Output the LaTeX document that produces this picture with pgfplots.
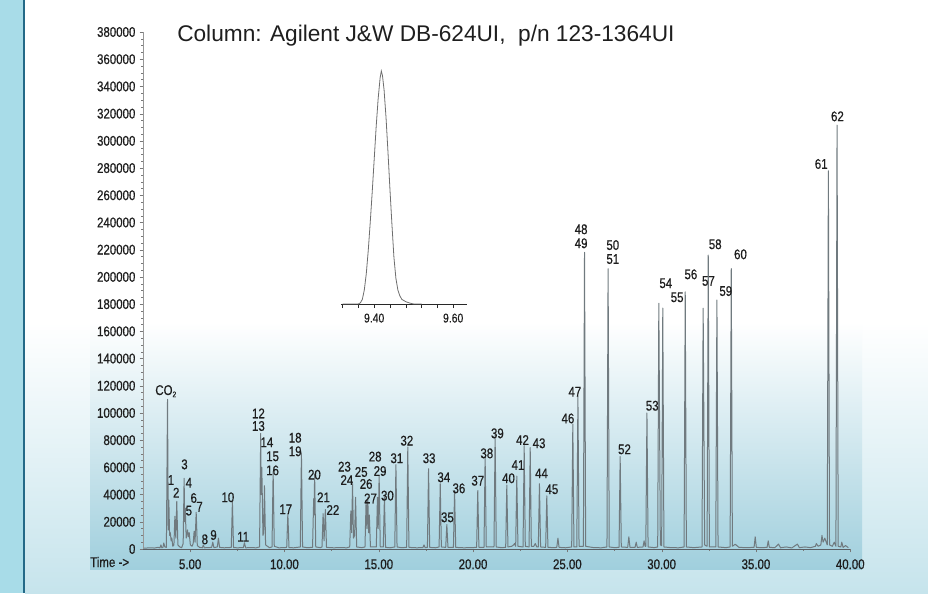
\documentclass[border=0pt]{standalone}
\usepackage{fontspec}
\setmainfont{Liberation Sans}
\newfontfamily\condfont{Liberation Sans}[FakeStretch=0.82,FakeBold=0.6]
\usepackage{pgfplots}
\pgfplotsset{compat=1.18}
\definecolor{strip}{RGB}{168,220,232}
\definecolor{stripline}{RGB}{35,105,135}
\definecolor{panelbot}{RGB}{198,228,236}
\definecolor{boxbot}{RGB}{160,207,221}
\definecolor{trace}{RGB}{112,122,127}
\definecolor{txt}{RGB}{30,30,30}
\tikzset{lbl/.style={font=\condfont\fontsize{10.5}{12}\selectfont, text=txt, inner sep=0pt}}

\pgfplotstableread{
t v
2.55 600
2.90 900
3.10 700
3.30 1200
3.40 800
3.45 3000
3.50 900
3.56 1200
3.60 4400
3.66 1500
3.74 1200
3.80 110000
3.84 14000
3.87 36000
3.91 10000
3.95 12000
3.99 6000
4.03 8000
4.08 2000
4.14 3000
4.19 24000
4.24 8000
4.29 35000
4.35 3000
4.45 1500
4.55 1000
4.63 4000
4.68 52000
4.71 20000
4.74 30000
4.79 8000
4.86 14000
4.90 9000
4.95 12000
5.01 3000
5.10 2000
5.16 4000
5.21 13000
5.26 5000
5.32 27000
5.38 2500
5.50 1200
5.65 900
5.70 3000
5.75 900
5.95 1000
6.14 1200
6.20 5000
6.26 1000
6.44 1500
6.50 8000
6.56 1200
6.80 900
7.00 1000
7.18 1200
7.24 35000
7.30 1000
7.50 900
7.82 1000
7.88 4600
7.94 900
8.20 1000
8.50 900
8.68 1500
8.74 85000
8.77 40000
8.80 60000
8.86 10000
8.90 12000
8.94 46500
9.00 3000
9.20 1000
9.34 1500
9.40 57000
9.46 2000
9.70 900
10.00 1000
10.12 1200
10.18 26000
10.24 1000
10.50 900
10.84 1500
10.90 70800
10.96 1500
11.20 1000
11.49 1200
11.55 37000
11.57 25000
11.60 55000
11.66 1500
11.90 1000
11.99 1500
12.05 26000
12.10 6000
12.17 29000
12.23 1200
12.60 900
13.00 1000
13.30 900
13.46 1500
13.52 28000
13.56 12000
13.61 48000
13.66 8000
13.72 10000
13.77 38000
13.83 1500
14.10 1000
14.27 1500
14.33 36000
14.37 15000
14.42 38000
14.46 12000
14.50 25000
14.56 1500
14.87 1500
14.93 38000
14.97 15000
15.02 54000
15.08 1500
15.24 1500
15.30 38000
15.36 1200
15.60 900
15.85 1500
15.91 62000
15.97 1500
16.20 1000
16.48 1200
16.54 75000
16.60 1200
17.00 900
17.34 1000
17.40 3000
17.46 1000
17.58 1200
17.64 59000
17.70 1200
18.00 900
18.20 1500
18.26 48000
18.32 1500
18.55 1200
18.61 18000
18.67 1200
18.96 1200
19.02 43000
19.08 1200
19.50 900
19.90 1000
20.19 1200
20.25 43000
20.31 1200
20.58 1200
20.64 68000
20.70 1500
21.11 1500
21.17 84000
21.23 1500
21.50 1000
21.73 1200
21.79 47000
21.85 1500
22.05 2000
22.15 3000
22.20 4000
22.26 2000
22.32 53600
22.38 2000
22.65 1500
22.71 76000
22.77 2000
22.97 1500
23.03 74500
23.09 2000
23.22 2000
23.30 4000
23.38 1500
23.46 1500
23.52 48000
23.58 1500
23.85 1200
23.91 39000
23.97 1200
24.30 1000
24.44 1200
24.50 8000
24.56 1200
24.90 900
25.23 1500
25.29 92000
25.35 1500
25.50 1500
25.56 112000
25.62 2000
25.85 2000
25.91 218000
25.97 2000
26.40 1000
26.80 900
27.10 1500
27.16 206000
27.22 1500
27.50 1000
27.74 1200
27.80 68000
27.86 1500
28.20 1200
28.26 9000
28.32 1200
28.59 1200
28.65 5000
28.71 1200
29.01 1500
29.07 6000
29.12 2000
29.16 2000
29.22 100000
29.28 1500
29.60 1000
29.79 1500
29.85 180600
29.93 3000
30.00 2500
30.06 177000
30.12 1500
30.50 1000
30.90 900
31.19 1500
31.25 189000
31.31 1500
31.70 1000
32.14 1500
32.20 177000
32.28 3000
32.34 2500
32.41 2000
32.47 216000
32.53 1500
32.87 1500
32.93 183000
32.99 1500
33.40 1000
33.63 1500
33.69 206000
33.75 2000
33.90 3500
34.10 1200
34.50 1000
34.90 1200
34.96 9000
35.02 1200
35.30 1000
35.59 1200
35.65 6000
35.71 1200
36.00 1000
36.20 3600
36.30 900
36.60 1500
36.90 800
37.20 3600
37.30 1000
37.60 1500
37.90 1000
38.15 2000
38.20 4000
38.30 2000
38.44 3000
38.50 10000
38.56 5000
38.65 8000
38.78 3000
38.84 278000
38.90 3000
39.05 2000
39.15 5000
39.24 2000
39.30 311600
39.36 2000
39.50 1500
39.55 5000
39.62 1200
39.75 2500
39.90 1000
}\chrom

\pgfplotstableread{
t v
9.320 0
9.360 0
9.365 0.005
9.370 0.02
9.375 0.06
9.380 0.13
9.385 0.23
9.390 0.35
9.395 0.48
9.400 0.62
9.405 0.76
9.410 0.88
9.415 0.97
9.418 1.00
9.421 0.98
9.425 0.92
9.430 0.80
9.435 0.65
9.440 0.49
9.445 0.34
9.450 0.20
9.455 0.11
9.460 0.06
9.465 0.035
9.470 0.02
9.480 0.01
9.490 0.004
9.500 0.0
9.520 0.0
}\inset

\begin{document}
\begin{tikzpicture}
\begin{scope}[x=0.75pt,y=-0.75pt]
\useasboundingbox (0,0) rectangle (928,593);
\fill[white] (0,0) rectangle (928,593);
\fill[top color=white,bottom color=panelbot] (25,322) rectangle (928,593);
\fill[top color=white,bottom color=boxbot] (90,322) rectangle (862,569);
\fill[strip] (0,0) rectangle (22.5,593);
\fill[stripline] (22.5,0) rectangle (25,593);
\node[anchor=base west,font=\fontsize{17}{20}\selectfont,text=txt,inner sep=0pt] at (177,41.7) {Column: Agilent J\&W DB-624UI,\ \ p/n 123-1364UI};
\node[lbl,anchor=base west] at (90,567) {Time ->};
\end{scope}

\begin{axis}[
  at={(107.25pt,-411.75pt)}, anchor=south west, scale only axis,
  width=530.44pt, height=387.75pt,
  xmin=2.5, xmax=40, ymin=0, ymax=380000,
  axis lines*=left,
  x axis line style={draw={rgb,255:red,90;green,95;blue,100}},
  y axis line style={draw={rgb,255:red,150;green,150;blue,150}},
  xtick={5,10,...,40}, ytick={0,20000,...,380000},
  minor x tick num=1, minor y tick num=3,
  tick align=outside, major tick length=2.5pt, minor tick length=1.2pt,
  tick style={draw={rgb,255:red,120;green,120;blue,120}},
  scaled y ticks=false,
  /pgf/number format/assume math mode=true,
  yticklabel style={/pgf/number format/fixed, /pgf/number format/1000 sep={}, lbl, inner sep=0pt, xshift=-3pt},
  xticklabel style={/pgf/number format/fixed, /pgf/number format/fixed zerofill, /pgf/number format/precision=2, lbl, inner sep=0pt, yshift=-5pt},
  clip=false,
]
\addplot[trace, line width=0.75pt, line join=round] table[x=t,y=v] {\chrom};
\node[lbl,anchor=west] at (axis cs:3.14,116000) {CO\textsubscript{\fontsize{6}{7}\selectfont 2}};
\node[lbl] at (axis cs:3.98,50700) {1};
\node[lbl] at (axis cs:4.26,41400) {2};
\node[lbl] at (axis cs:4.70,62200) {3};
\node[lbl] at (axis cs:4.93,48700) {4};
\node[lbl] at (axis cs:4.93,28200) {5};
\node[lbl] at (axis cs:5.19,37500) {6};
\node[lbl] at (axis cs:5.50,31100) {7};
\node[lbl] at (axis cs:5.78,7100) {8};
\node[lbl] at (axis cs:6.24,10300) {9};
\node[lbl] at (axis cs:7.00,38000) {10};
\node[lbl] at (axis cs:7.81,9000) {11};
\node[lbl] at (axis cs:8.62,99700) {12};
\node[lbl] at (axis cs:8.62,90400) {13};
\node[lbl] at (axis cs:9.07,78400) {14};
\node[lbl] at (axis cs:9.37,68100) {15};
\node[lbl] at (axis cs:9.37,57800) {16};
\node[lbl] at (axis cs:10.07,29200) {17};
\node[lbl] at (axis cs:10.57,81800) {18};
\node[lbl] at (axis cs:10.57,71800) {19};
\node[lbl] at (axis cs:11.59,54600) {20};
\node[lbl] at (axis cs:12.07,38000) {21};
\node[lbl] at (axis cs:12.57,28700) {22};
\node[lbl] at (axis cs:13.18,60500) {23};
\node[lbl] at (axis cs:13.31,50700) {24};
\node[lbl] at (axis cs:14.07,56600) {25};
\node[lbl] at (axis cs:14.33,47800) {26};
\node[lbl] at (axis cs:14.56,37200) {27};
\node[lbl] at (axis cs:14.81,67900) {28};
\node[lbl] at (axis cs:15.07,57300) {29};
\node[lbl] at (axis cs:15.46,39200) {30};
\node[lbl] at (axis cs:15.96,66700) {31};
\node[lbl] at (axis cs:16.49,79600) {32};
\node[lbl] at (axis cs:17.67,66700) {33};
\node[lbl] at (axis cs:18.45,52700) {34};
\node[lbl] at (axis cs:18.64,23300) {35};
\node[lbl] at (axis cs:19.25,44600) {36};
\node[lbl] at (axis cs:20.25,50200) {37};
\node[lbl] at (axis cs:20.73,70300) {38};
\node[lbl] at (axis cs:21.29,85000) {39};
\node[lbl] at (axis cs:21.88,52000) {40};
\node[lbl] at (axis cs:22.38,61700) {41};
\node[lbl] at (axis cs:22.62,80100) {42};
\node[lbl] at (axis cs:23.50,77700) {43};
\node[lbl] at (axis cs:23.63,55600) {44};
\node[lbl] at (axis cs:24.18,43900) {45};
\node[lbl] at (axis cs:25.03,96000) {46};
\node[lbl] at (axis cs:25.40,115600) {47};
\node[lbl] at (axis cs:25.73,235000) {48};
\node[lbl] at (axis cs:25.73,224700) {49};
\node[lbl] at (axis cs:27.41,223400) {50};
\node[lbl] at (axis cs:27.41,213100) {51};
\node[lbl] at (axis cs:28.03,73300) {52};
\node[lbl] at (axis cs:29.50,105300) {53};
\node[lbl] at (axis cs:30.22,195300) {54};
\node[lbl] at (axis cs:30.82,185000) {55};
\node[lbl] at (axis cs:31.55,201900) {56};
\node[lbl] at (axis cs:32.48,197000) {57};
\node[lbl] at (axis cs:32.84,224000) {58};
\node[lbl] at (axis cs:33.40,189600) {59};
\node[lbl] at (axis cs:34.18,216600) {60};
\node[lbl] at (axis cs:38.46,283000) {61};
\node[lbl] at (axis cs:39.32,318000) {62};
\end{axis}

\begin{axis}[
  at={(255.75pt,-228pt)}, anchor=south west, scale only axis,
  width=94.5pt, height=174.75pt,
  xmin=9.316, xmax=9.635, ymin=0, ymax=1,
  axis x line*=bottom, axis y line=none,
  x axis line style={draw={rgb,255:red,40;green,40;blue,40}, line width=0.6pt},
  xtick={9.32,9.36,9.40,9.44,9.48,9.52,9.56,9.60},
  xticklabels={,,9.40,,,,,9.60},
  ytick=\empty,
  tick align=outside, major tick length=3pt,
  tick style={draw={rgb,255:red,40;green,40;blue,40}},
  xticklabel style={font=\condfont\fontsize{9.5}{11}\selectfont, text=txt, inner sep=0pt, yshift=-4pt},
  clip=false,
]
\addplot[draw={rgb,255:red,110;green,110;blue,110}, line width=0.6pt] table[x=t,y=v] {\inset};
\end{axis}
\end{tikzpicture}
\end{document}
